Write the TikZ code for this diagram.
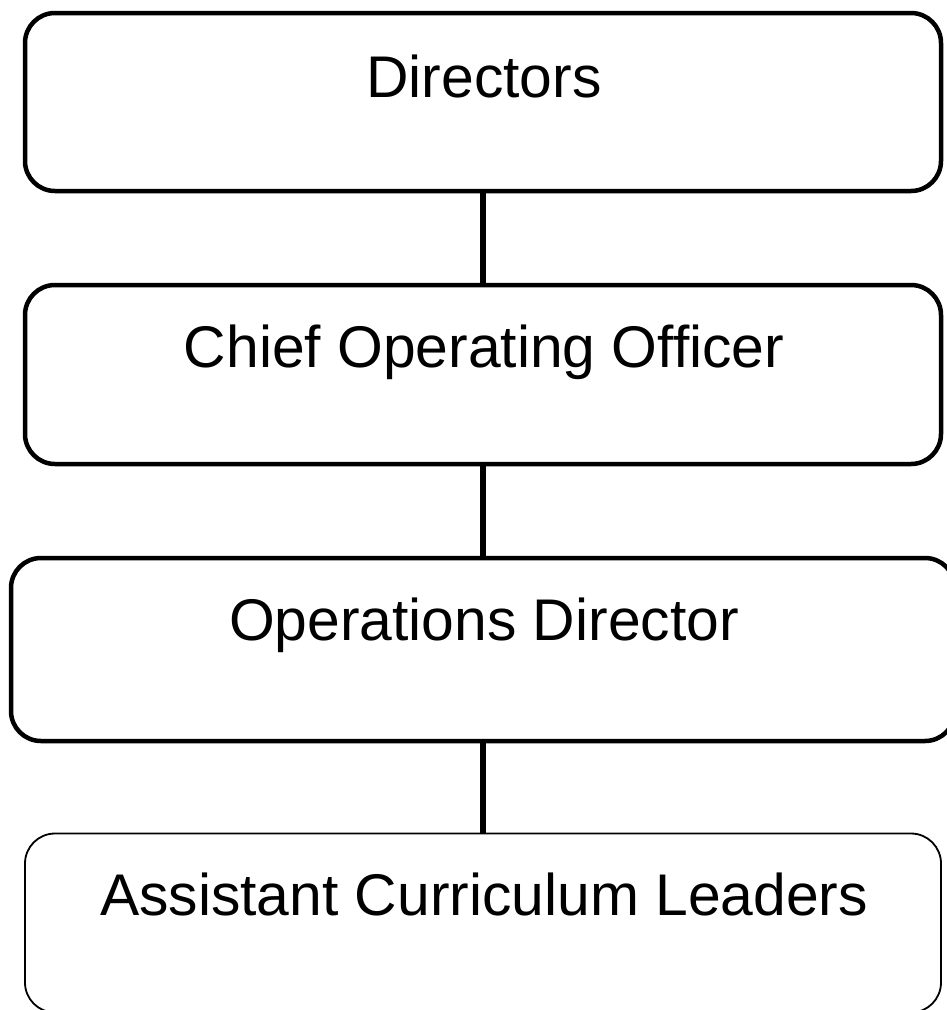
\documentclass[tikz,border=0pt]{standalone}
\usepackage{fontspec}
\setmainfont{Liberation Sans}
\begin{document}
\begin{tikzpicture}[x=1pt,y=-1pt,
  box/.style={draw=black, rectangle, rounded corners=30pt, line width=4.5pt, inner sep=0pt, outer sep=0pt, minimum width=916pt, minimum height=178pt},
  thinbox/.style={box, line width=1.8pt},
  label/.style={anchor=base, inner sep=0pt, font=\fontsize{58.8}{70}\selectfont},
  link/.style={draw=black, line width=6pt}]
\useasboundingbox (0,0) rectangle (947,1010);
\node[box] (b1) at (483,102) {};
\node[box, minimum height=179pt] (b2) at (483,374.5) {};
\node[box, minimum width=944pt, minimum height=183pt] (b3) at (483,649.5) {};
\node[thinbox, minimum height=179pt] (b4) at (483,923) {};
\node[label] (t1) at (484,97) {Directors};
\node[label] (t2) at (484,367) {Chief Operating Officer};
\node[label] (t3) at (484,640) {Operations Director};
\node[label] (t4) at (484,915) {Assistant Curriculum Leaders};
\draw[link] (b1.south) -- (b2.north);
\draw[link] (b2.south) -- (b3.north);
\draw[link] (b3.south) -- (b4.north);
\end{tikzpicture}
\end{document}
